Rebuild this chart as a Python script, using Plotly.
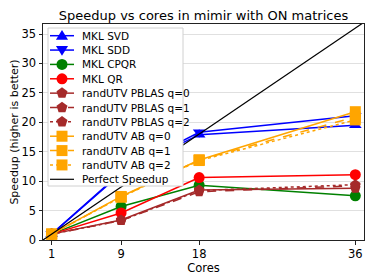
import math
import plotly.graph_objects as go

cores = [1, 9, 18, 36]
mkl_svd = [1.0, 11.3, 17.9, 19.5]
mkl_sdd = [1.0, 11.5, 18.3, 21.1]
mkl_cpqr = [1.0, 5.7, 9.3, 7.5]
mkl_qr = [1.0, 4.6, 10.6, 11.1]
pblas_q0 = [1.0, 3.4, 8.5, 8.8]
pblas_q1 = [1.0, 3.3, 8.2, 9.2]
pblas_q2 = [1.0, 3.3, 8.4, 9.4]
ab_q0 = [1.0, 7.4, 13.6, 21.8]
ab_q1 = [1.0, 7.3, 13.6, 20.9]
ab_q2 = [1.0, 7.3, 13.5, 20.4]
perfect_x = [0, 37]
perfect_y = [0, 37]
y_ticks = [0, 5, 10, 15, 20, 25, 30, 35]

series = [
    ("MKL SVD", mkl_svd, "blue", "triangle-up", "solid"),
    ("MKL SDD", mkl_sdd, "blue", "triangle-down", "solid"),
    ("MKL CPQR", mkl_cpqr, "green", "circle", "solid"),
    ("MKL QR", mkl_qr, "red", "circle", "solid"),
    ("randUTV PBLAS q=0", pblas_q0, "brown", "pentagon", "solid"),
    ("randUTV PBLAS q=1", pblas_q1, "brown", "pentagon", "dash"),
    ("randUTV PBLAS q=2", pblas_q2, "brown", "pentagon", "dot"),
    ("randUTV AB q=0", ab_q0, "orange", "square", "solid"),
    ("randUTV AB q=1", ab_q1, "orange", "square", "dash"),
    ("randUTV AB q=2", ab_q2, "orange", "square", "dot"),
]

# The page body has an 8px margin; compensate so the figure fills the window.
OFF = 8
WIN_W, WIN_H = 374, 280
W, H = WIN_W - OFF, WIN_H - OFF
PX0, PX1, PY0, PY1 = 43, 364, 24, 240          # plot area, window pixels
L, T = PX0 - OFF, PY0 - OFF
R, B = WIN_W - PX1, WIN_H - PY1
MSIZE = 11

fig = go.Figure()
for name, ys, col, sym, dash in series:
    fig.add_trace(go.Scatter(x=cores, y=ys, name=name, mode="lines+markers",
                             showlegend=False,
                             line=dict(color=col, width=1.5, dash=dash),
                             marker=dict(color=col, symbol=sym, size=MSIZE)))
fig.add_trace(go.Scatter(x=perfect_x, y=perfect_y, name="Perfect Speedup", mode="lines",
                         showlegend=False, line=dict(color="black", width=1.2)))
# dummy trace so the pixel overlay axes exist
fig.add_trace(go.Scatter(x=[PX0], y=[PY0], xaxis="x2", yaxis="y2", mode="markers",
                         marker=dict(opacity=0), showlegend=False, hoverinfo="skip"))


def marker_path(sym, cx, cy, s):
    r = s / 2
    if sym == "triangle-up":
        pts = [(cx - r * 1.1, cy + r * 0.75), (cx + r * 1.1, cy + r * 0.75), (cx, cy - r * 1.05)]
    elif sym == "triangle-down":
        pts = [(cx - r * 1.1, cy - r * 0.75), (cx + r * 1.1, cy - r * 0.75), (cx, cy + r * 1.05)]
    elif sym == "square":
        pts = [(cx - r, cy - r), (cx + r, cy - r), (cx + r, cy + r), (cx - r, cy + r)]
    elif sym == "pentagon":
        rr = r * 1.05
        pts = [(cx + rr * math.sin(2 * math.pi * k / 5), cy - rr * math.cos(2 * math.pi * k / 5))
               for k in range(5)]
    else:
        return None
    return "M " + " L ".join(f"{x:.2f},{y:.2f}" for x, y in pts) + " Z"


# ---- manual legend drawn above the data, in window-pixel units ----
leg_x0, leg_x1, leg_y0, leg_y1 = 48, 183, 28, 186
row0, row_step = 35.7, 14.36
line_x0, line_x1, text_x = 50, 74, 80
entries = [(n, c, s, d) for n, _, c, s, d in series] + [("Perfect Speedup", "black", None, "solid")]

shapes = [dict(type="rect", xref="x2", yref="y2", x0=leg_x0, x1=leg_x1, y0=leg_y0, y1=leg_y1,
               fillcolor="white", line=dict(color="#d0d0d0", width=1), layer="above")]
for i, (name, col, sym, dash) in enumerate(entries):
    yy = row0 + i * row_step
    shapes.append(dict(type="line", xref="x2", yref="y2", x0=line_x0, x1=line_x1, y0=yy, y1=yy,
                       line=dict(color=col, width=1.5 if sym else 1.2, dash=dash), layer="above"))
    cx = (line_x0 + line_x1) / 2
    if sym == "circle":
        r = MSIZE / 2
        shapes.append(dict(type="circle", xref="x2", yref="y2", x0=cx - r, x1=cx + r,
                           y0=yy - r, y1=yy + r, fillcolor=col, line=dict(width=0),
                           layer="above"))
    elif sym:
        shapes.append(dict(type="path", xref="x2", yref="y2",
                           path=marker_path(sym, cx, yy, MSIZE), fillcolor=col,
                           line=dict(width=0), layer="above"))
    fig.add_annotation(x=text_x, y=yy, xref="x2", yref="y2", text=name, showarrow=False,
                       xanchor="left", yanchor="middle", font=dict(size=10.5, color="black"))

fig.update_layout(
    width=W, height=H,
    margin=dict(l=L, r=R, t=T, b=B, autoexpand=False),
    paper_bgcolor="white", plot_bgcolor="white",
    font=dict(family="DejaVu Sans", size=11, color="black"),
    title=dict(text="Speedup vs cores in mimir with ON matrices", xref="paper", x=0.5,
               xanchor="center", yref="container", y=1 - 3 / H, yanchor="top",
               font=dict(size=13)),
    showlegend=False,
    shapes=shapes,
    xaxis=dict(range=[0, 37], tickvals=cores, ticktext=[str(c) for c in cores],
               showgrid=False, zeroline=False, showline=True, linecolor="#222", linewidth=1,
               mirror=True, ticks="outside", ticklen=3.5, tickcolor="#222",
               tickfont=dict(size=11.5),
               title=dict(text="Cores", standoff=2, font=dict(size=11.5))),
    yaxis=dict(range=[0, 36.7], tickvals=y_ticks,
               showgrid=True, gridcolor="#e0e0e0", zeroline=False, showline=True,
               linecolor="#222", linewidth=1, mirror=True, ticks="outside", ticklen=3.5,
               tickcolor="#222", tickfont=dict(size=11.5),
               title=dict(text="Speedup (higher is better)", standoff=5, font=dict(size=11))),
    xaxis2=dict(overlaying="x", range=[PX0, PX1], visible=False, fixedrange=True),
    yaxis2=dict(overlaying="y", range=[PY1, PY0], visible=False, fixedrange=True),
)

fig.write_html("out.html")
